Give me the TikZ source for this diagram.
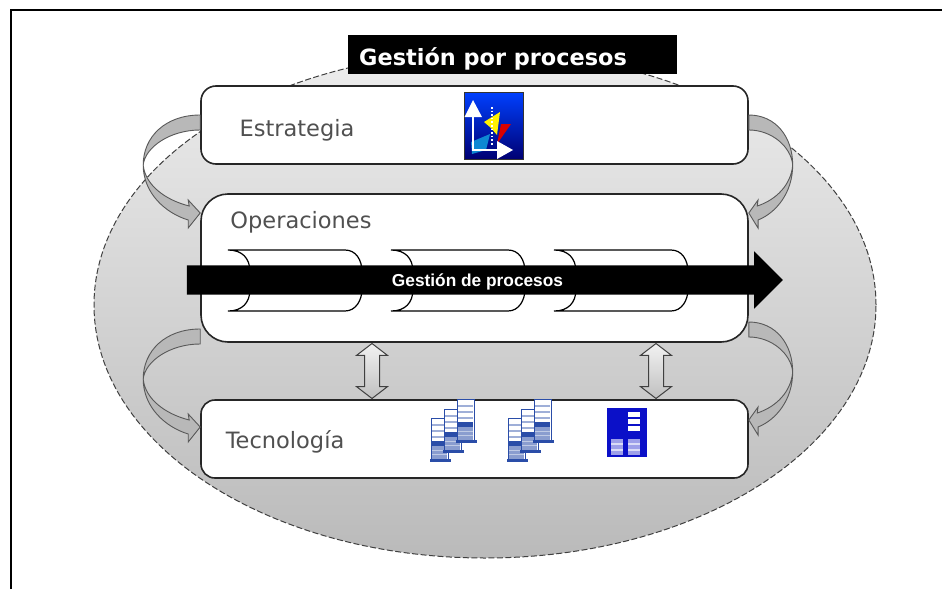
\documentclass[tikz,border=0pt]{standalone}
\usepackage{fontspec}
\setmainfont{DejaVu Sans}
\newfontfamily\arrowfont{Liberation Sans}
\usepackage{xcolor}
\usetikzlibrary{calc, positioning, shapes.geometric, shapes.arrows}

\definecolor{boxtext}{HTML}{505050}
\definecolor{serverblue}{HTML}{2A4DA8}
\definecolor{rackblue}{HTML}{0B10C8}

\tikzset{
    layerbox/.style={draw=black!85, line width=1.6pt, fill=white, rectangle, minimum width=547pt, inner sep=0pt},
    layertext/.style={text=boxtext, font=\fontsize{22.5}{27}\selectfont, inner sep=0pt},
    linkarrow/.style={double arrow, shape border rotate=90, draw=black!75, line width=1pt, top color=black!5, bottom color=black!25, minimum height=55pt, inner xsep=7pt, inner ysep=0pt, double arrow head extend=8pt, double arrow tip angle=105},
    curvearrow/.pic={
        \draw[draw=black!65, line width=.9pt, fill=black!28]
        (0,0) .. controls (-35,0) and (-57,22) .. (-57,50)
        .. controls (-57,78) and (-35,98) .. (-12,105)
        -- (-12,113) -- (0,98) -- (-12,85) -- (-11,91)
        .. controls (-35,85) and (-55,70) .. (-57,50)
        .. controls (-55,32) and (-30,15) .. (0,15) -- cycle;
    },
    procesoshape/.pic={
        \draw[line width=1.2pt]
        (0,0) .. controls (14,0) and (22,8) .. (22,22) -- (22,39)
        .. controls (22,53) and (14,61) .. (0,61) -- (117,61)
        .. controls (128,61) and (134,50) .. (134,39) -- (134,22)
        .. controls (134,10) and (128,0) .. (117,0) -- cycle;
    },
    servertower/.pic={
        \draw[serverblue, fill=white, line width=.9pt] (0,0) rectangle (17,42);
        \foreach \y in {6,12,18} \fill[serverblue!45] (1,\y) rectangle (16,\y+1.5);
        \fill[serverblue] (1,23) rectangle (16,28);
        \fill[serverblue!55] (1,28) rectangle (16,41);
        \foreach \y in {32,36} \fill[white!70!serverblue] (1,\y) rectangle (16,\y+1.2);
        \fill[serverblue] (-1,41) rectangle (20,43.5);
    },
    serverstack/.pic={
        \pic at (0,19) {servertower};
        \pic at (13,10) {servertower};
        \pic at (26,0) {servertower};
    }
}

\begin{document}
\begin{tikzpicture}[x=1pt, y=-1pt]
    \useasboundingbox (0,0) rectangle (942,589);

    \coordinate (framebl) at (11,589);
    \coordinate (frametl) at (11,10);
    \coordinate (frametr) at (942,10);
    \draw[line width=1.5pt] (framebl) -- (frametl) -- (frametr);

    \node[ellipse, draw=black!75, dash pattern=on 6pt off 2.5pt, line width=1pt, top color=black!7, bottom color=black!27, minimum width=782pt, minimum height=506pt, inner sep=0pt] (proceso) at (485,305) {};

    \node[fill=black, minimum width=329pt, minimum height=39pt, inner sep=0pt] (titulo) at (512.5,54.5) {};
    \node[text=white, font=\bfseries\fontsize{22.4}{27}\selectfont, inner sep=0pt, anchor=west] (titulolabel) at (359,59) {Gestión por procesos};

    \node[layerbox, minimum height=78pt, rounded corners=15pt] (estrategia) at (474.5,125) {};
    \node[layerbox, minimum height=148pt, rounded corners=27pt] (operaciones) at (474.5,268) {};
    \node[layerbox, minimum height=78pt, rounded corners=14pt] (tecnologia) at (474.5,439) {};

    \node[layertext] (estrategialabel) at (297,130) {Estrategia};
    \node[layertext] (operacioneslabel) at (301,222) {Operaciones};
    \node[layertext] (tecnologialabel) at (285,442) {Tecnología};

    % curved arrows between the layers
    \pic (arrowa) at ($(estrategia.west)+(0,-10)$) {curvearrow};
    \pic (arrowb) at ($(operaciones.west)+(0,61)$) {curvearrow};
    \pic[xscale=-0.77] (arrowc) at ($(estrategia.east)+(0,-10)$) {curvearrow};
    \pic[xscale=-0.77] (arrowd) at ($(operaciones.east)+(0,54)$) {curvearrow};

    \node[linkarrow] (linka) at (372,371) {};
    \node[linkarrow] (linkb) at (656,371) {};

    % process shapes behind the black arrow
    \foreach \x in {228,391,554}
        \pic at (\x,250) {procesoshape};

    \node[single arrow, fill=black, minimum height=596pt, inner xsep=0pt, inner ysep=14.5pt, single arrow head extend=14pt] (gestion) at (477.5,280) {};
    \node[text=white, font=\arrowfont\bfseries\fontsize{17.3}{20}\selectfont, inner sep=0pt] (gestionlabel) at (477.5,282) {Gestión de procesos};

    % strategy icon
    \node[draw=black!80, line width=1pt, top color=blue!75!cyan, bottom color=blue!45!black, minimum width=59pt, minimum height=67pt, inner sep=0pt] (iconestrategia) at (493.5,125.5) {};
    \fill[cyan!70!blue] (471,142) -- (490,134) -- (486,150) -- (472,154) -- cycle;
    \fill[yellow] (484,122) -- (500,112) -- (497,135) -- (491,128) -- cycle;
    \fill[red!85!black] (497,144) -- (501,124) -- (511,124) -- cycle;
    \draw[white, line width=1.6pt, dotted] (492,107) -- (492,145);
    \draw[white, line width=2.5pt] (473,114) -- (473,150) -- (499,150);
    \fill[white] (473,100) -- (482,117) -- (464.5,117) -- cycle;
    \fill[white] (513,150) -- (497,141) -- (497,159) -- cycle;

    % servers
    \pic at (431,399) {serverstack};
    \pic at (508,399) {serverstack};

    \node[fill=rackblue, minimum width=40pt, minimum height=49pt, inner sep=0pt] (rack) at (627,432.5) {};
    \foreach \y in {412,419,426}
        \fill[white] (628,\y) rectangle (640,\y+5);
    \foreach \x in {611,628}
        \fill[rackblue!40!white] (\x,439) rectangle (\x+12,455);
    \foreach \x in {611,628}
        \foreach \y in {443,449}
            \fill[white!85!rackblue] (\x,\y) rectangle (\x+12,\y+1.5);
\end{tikzpicture}
\end{document}
